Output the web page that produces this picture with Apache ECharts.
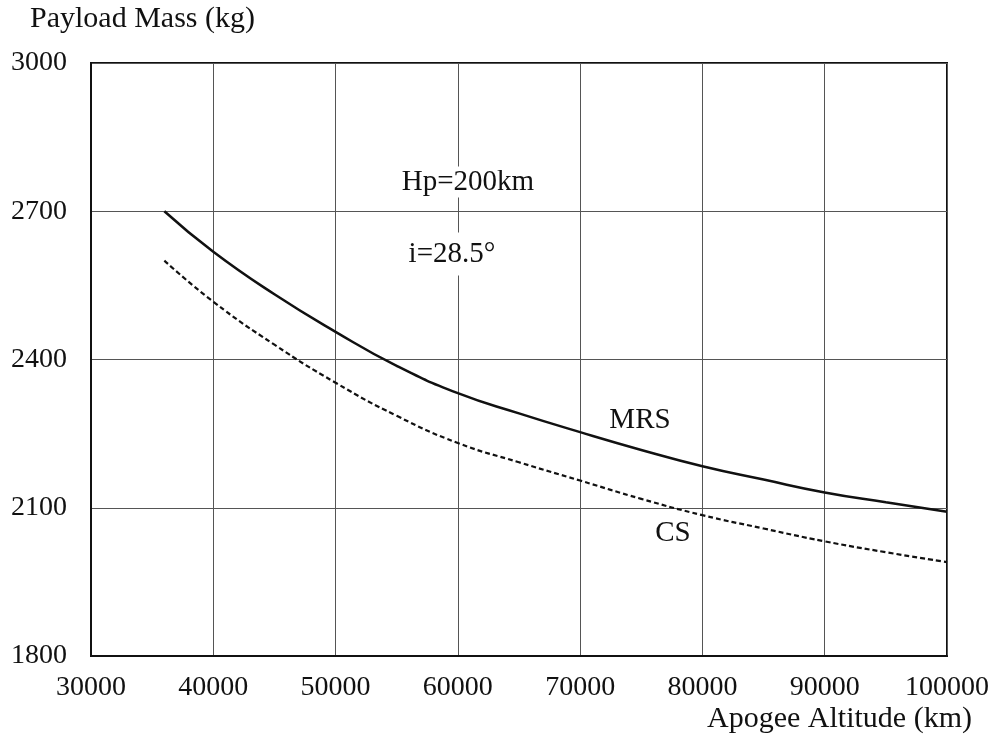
<!DOCTYPE html>
<html>
<head>
<meta charset="utf-8">
<script src="https://cdn.jsdelivr.net/npm/echarts@6/dist/echarts.min.js"></script>
<style>html,body{margin:0;padding:0;background:#fff;}#c{width:992px;height:749px;}</style>
</head>
<body>
<div id="c"></div>
<script>
const altitudes = [36000, 40000, 45000, 50000, 55000, 60000, 65000, 70000, 75000, 80000, 85000, 90000, 95000, 100000];
const mrs = [2700, 2618, 2532, 2456, 2387, 2332, 2291, 2253, 2217, 2184, 2157, 2131, 2111, 2092];
const cs  = [2600, 2517, 2430, 2353, 2286, 2231, 2192, 2155, 2118, 2085, 2058, 2032, 2010, 1990];
const xTicks = [30000, 40000, 50000, 60000, 70000, 80000, 90000, 100000];
const yTicks = [1800, 2100, 2400, 2700, 3000];
const yTitle = 'Payload Mass (kg)';
const xTitle = 'Apogee Altitude (km)';
const notes = ['Hp=200km', 'i=28.5\u00b0', 'MRS', 'CS'];

const FONT = '"Liberation Serif", "DejaVu Serif", serif';
const chart = echarts.init(document.getElementById('c'), null, {renderer: 'canvas'});
const pair = (xs, ys) => xs.map((x, i) => [x, ys[i]]);

chart.setOption({
  animation: false,
  backgroundColor: '#fff',
  grid: {left: 91, right: 45, top: 63, bottom: 93, show: true, borderColor: '#111', borderWidth: 2, backgroundColor: 'transparent'},
  xAxis: {
    type: 'value', min: xTicks[0], max: xTicks[xTicks.length - 1], interval: 10000,
    axisLine: {show: true, lineStyle: {color: '#111', width: 2}},
    axisTick: {show: false},
    axisLabel: {color: '#111', fontFamily: FONT, fontSize: 28, margin: 18, formatter: v => String(v)},
    splitLine: {show: true, lineStyle: {color: '#555', width: 1}}
  },
  yAxis: {
    type: 'value', min: yTicks[0], max: yTicks[yTicks.length - 1], interval: 300,
    axisLine: {show: true, lineStyle: {color: '#111', width: 2}},
    axisTick: {show: false},
    axisLabel: {color: '#111', fontFamily: FONT, fontSize: 28, margin: 24, formatter: v => String(v)},
    splitLine: {show: true, lineStyle: {color: '#555', width: 1}}
  },
  series: [
    {name: 'MRS', type: 'line', data: pair(altitudes, mrs), smooth: 0.5, showSymbol: false,
     lineStyle: {color: '#111', width: 2.5}, z: 5},
    {name: 'CS', type: 'line', data: pair(altitudes, cs), smooth: 0.5, showSymbol: false,
     lineStyle: {color: '#111', width: 2.2, type: [5, 3]}, z: 5}
  ],
  graphic: [
    {type: 'text', left: 30, top: 4, style: {text: yTitle, fontFamily: FONT, fontSize: 30, fill: '#111'}},
    {type: 'text', right: 20, top: 704, style: {text: xTitle, fontFamily: FONT, fontSize: 30, fill: '#111'}},
    {type: 'text', x: 468, y: 182, z: 10, style: {text: notes[0], fontFamily: FONT, fontSize: 29, fill: '#111', align: 'center', verticalAlign: 'middle', backgroundColor: '#fff', padding: [0, 4, 2, 4]}},
    {type: 'text', x: 452, y: 254, z: 10, style: {text: notes[1], fontFamily: FONT, fontSize: 29, fill: '#111', align: 'center', verticalAlign: 'middle', backgroundColor: '#fff', padding: [6, 4, 8, 4]}},
    {type: 'text', x: 640, y: 420, z: 10, style: {text: notes[2], fontFamily: FONT, fontSize: 29, fill: '#111', align: 'center', verticalAlign: 'middle'}},
    {type: 'text', x: 673, y: 533, z: 10, style: {text: notes[3], fontFamily: FONT, fontSize: 29, fill: '#111', align: 'center', verticalAlign: 'middle'}}
  ]
});
</script>
</body>
</html>
